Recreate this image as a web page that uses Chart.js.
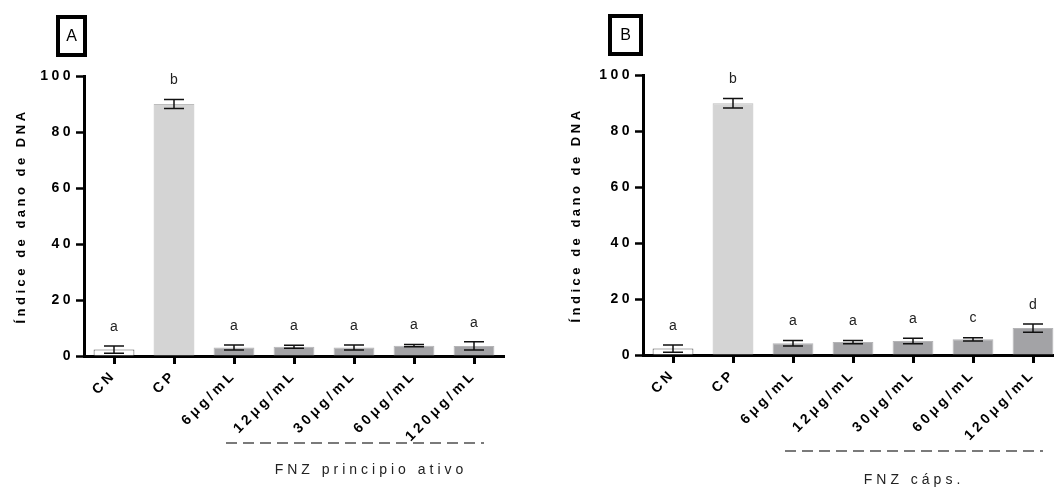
<!DOCTYPE html>
<html>
<head>
<meta charset="utf-8">
<script src="https://cdn.jsdelivr.net/npm/chart.js@4.4.1/dist/chart.umd.min.js"></script>
<style>
    html, body { margin: 0; padding: 0; background: #fff; }
    body { width: 1054px; height: 489px; overflow: hidden; position: relative; }
    canvas { position: absolute; top: 0; }
    #chartA { left: 0; }
    #chartB { left: 559px; top: -1px; }
</style>
</head>
<body>
<canvas id="chartA" width="527" height="489"></canvas>
<canvas id="chartB" width="527" height="489"></canvas>
<script>
        // Data
        const categories = ['CN', 'CP', '6μg/mL', '12μg/mL', '30μg/mL', '60μg/mL', '120μg/mL'];
        const yTicks = [0, 20, 40, 60, 80, 100];

        const meanA = [2.3, 90.0, 3.0, 3.3, 3.0, 3.7, 3.6];
        const sdA = [1.3, 1.6, 0.9, 0.5, 0.9, 0.4, 1.5];
        const lettersA = ['a', 'b', 'a', 'a', 'a', 'a', 'a'];

        const meanB = [2.3, 89.9, 4.2, 4.6, 5.0, 5.6, 9.6];
        const sdB = [1.3, 1.7, 1.0, 0.6, 1.0, 0.6, 1.5];
        const lettersB = ['a', 'b', 'a', 'a', 'a', 'c', 'd'];

        const FONT = "'Liberation Sans', Arial, sans-serif";
        const SPACING = '3.5px';
        Chart.defaults.font.family = FONT;
        Chart.defaults.color = '#000';

        const barFill = ['#ffffff', '#d4d4d4', '#a3a3a6', '#a3a3a6', '#a3a3a6', '#a3a3a6', '#a3a3a6'];
        const barBorder = ['#555555', '#bdbdbd', '#b4b4b6', '#b4b4b6', '#b4b4b6', '#b4b4b6', '#b4b4b6'];

        // Error bars, significance letters, panel box and group label
        const panelDecor = {
            id: 'panelDecor',
            beforeUpdate(chart) { chart.ctx.letterSpacing = SPACING; },
            beforeDraw(chart) { chart.ctx.letterSpacing = SPACING; },
            afterDatasetsDraw(chart, args, opts) {
                const ctx = chart.ctx;
                const xs = chart.scales.x, ys = chart.scales.y;
                ctx.save();
                ctx.letterSpacing = '0px';
                opts.means.forEach((m, i) => {
                    const px = xs.getPixelForValue(i);
                    const top = ys.getPixelForValue(m + opts.sds[i]);
                    const bot = ys.getPixelForValue(m - opts.sds[i]);
                    ctx.strokeStyle = '#111';
                    ctx.lineWidth = 1.5;
                    ctx.beginPath();
                    ctx.moveTo(px, top); ctx.lineTo(px, bot);
                    ctx.moveTo(px - 10, top); ctx.lineTo(px + 10, top);
                    ctx.moveTo(px - 10, bot); ctx.lineTo(px + 10, bot);
                    ctx.stroke();

                    ctx.fillStyle = '#222';
                    ctx.font = '14px ' + FONT;
                    ctx.textAlign = 'center';
                    ctx.textBaseline = 'middle';
                    ctx.fillText(opts.letters[i], px, top - 19);
                });
                ctx.restore();
            },
            afterDraw(chart, args, opts) {
                const ctx = chart.ctx;
                const xs = chart.scales.x;
                ctx.save();
                // panel letter box
                ctx.letterSpacing = '0px';
                ctx.strokeStyle = '#000';
                ctx.lineWidth = 4;
                ctx.strokeRect(opts.boxX + 2, 17, opts.boxW - 4, 38);
                ctx.fillStyle = '#000';
                ctx.font = '16px ' + FONT;
                ctx.textAlign = 'center';
                ctx.textBaseline = 'middle';
                ctx.fillText(opts.panel, opts.boxX + opts.boxW / 2, 37);

                // dashed group line under the dose labels
                const x0 = xs.getPixelForValue(2) - 8;
                const x1 = xs.getPixelForValue(6) + 10;
                ctx.strokeStyle = '#7a7a7a';
                ctx.lineWidth = 2;
                ctx.setLineDash([11, 6]);
                ctx.beginPath();
                ctx.moveTo(x0, opts.lineY);
                ctx.lineTo(x1, opts.lineY);
                ctx.stroke();
                ctx.setLineDash([]);

                ctx.letterSpacing = '4px';
                ctx.font = '14px ' + FONT;
                ctx.fillStyle = '#222';
                ctx.fillText(opts.group, (x0 + x1) / 2 + opts.groupDx, opts.lineY + opts.groupDy);
                ctx.restore();
            }
        };

        function makePanel(id, means, sds, letters, decor, titlePad) {
            const ctx = document.getElementById(id).getContext('2d');
            return new Chart(ctx, {
                type: 'bar',
                data: {
                    labels: categories,
                    datasets: [{
                        data: means,
                        backgroundColor: barFill,
                        borderColor: barBorder,
                        borderWidth: 1,
                        barPercentage: 0.68,
                        categoryPercentage: 1.0,
                    }]
                },
                options: {
                    responsive: false,
                    animation: false,
                    events: [],
                    layout: { padding: { top: 76, right: 23, left: 0, bottom: 0 } },
                    scales: {
                        x: {
                            offset: true,
                            border: { display: true, color: '#000', width: 3 },
                            grid: {
                                offset: false,
                                drawOnChartArea: false,
                                drawTicks: true,
                                tickLength: 8,
                                tickWidth: 3,
                                color: '#000',
                            },
                            ticks: {
                                autoSkip: false,
                                minRotation: 45,
                                maxRotation: 45,
                                padding: 3,
                                font: { size: 14, weight: 'bold' },
                            },
                            afterFit(scale) { scale.height = 133; },
                        },
                        y: {
                            min: 0,
                            max: 100,
                            border: { display: true, color: '#000', width: 3 },
                            grid: {
                                drawOnChartArea: false,
                                drawTicks: true,
                                tickLength: 8,
                                tickWidth: 2.5,
                                color: '#000',
                            },
                            afterBuildTicks(scale) {
                                scale.ticks = yTicks.map(v => ({ value: v }));
                            },
                            ticks: {
                                padding: 2,
                                font: { size: 14, weight: 'bold' },
                            },
                            title: {
                                display: true,
                                text: 'Índice de dano de DNA',
                                font: { size: 13, weight: 'bold' },
                                padding: { top: titlePad, bottom: 0 },
                            },
                            afterFit(scale) { scale.width = 84; },
                        }
                    },
                    plugins: {
                        legend: { display: false },
                        tooltip: { enabled: false },
                        panelDecor: Object.assign({ means: means, sds: sds, letters: letters }, decor),
                    }
                },
                plugins: [panelDecor]
            });
        }

        // Panel A: active ingredient
        const chartA = makePanel('chartA', meanA, sdA, lettersA, {
            panel: 'A', boxX: 56, boxW: 31,
            group: 'FNZ principio ativo', lineY: 443, groupDx: 16, groupDy: 27,
        }, 14);

        // Panel B: capsules
        const chartB = makePanel('chartB', meanB, sdB, lettersB, {
            panel: 'B', boxX: 49, boxW: 35,
            group: 'FNZ cáps.', lineY: 452, groupDx: 0, groupDy: 29,
        }, 10);
</script>
</body>
</html>
